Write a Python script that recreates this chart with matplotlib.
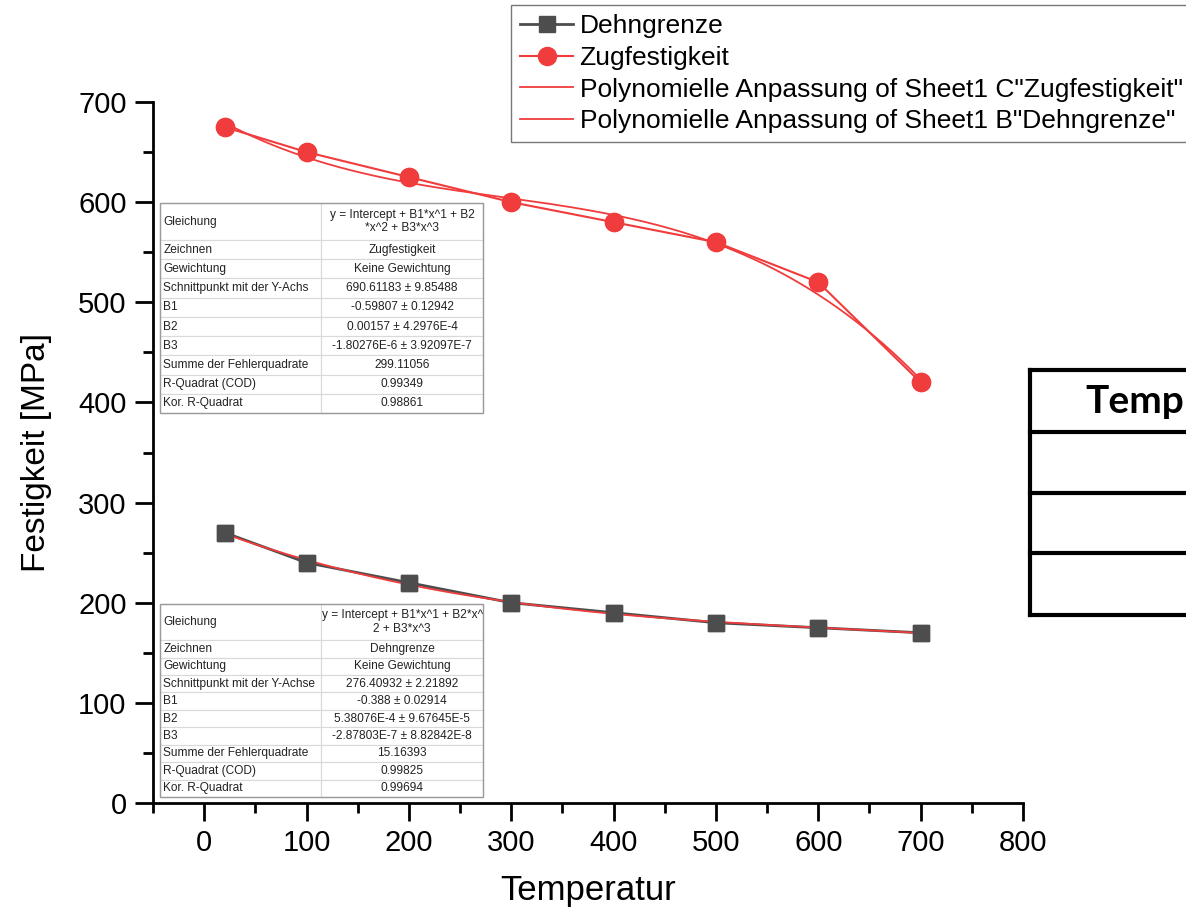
import matplotlib.pyplot as plt
import numpy as np
from matplotlib.patches import Rectangle

plt.rcParams['font.family'] = ['Liberation Sans', 'DejaVu Sans']

# Messwerte
temperatur = [20, 100, 200, 300, 400, 500, 600, 700]
dehngrenze = [270, 240, 220, 200, 190, 180, 175, 170]
zugfestigkeit = [675, 650, 625, 600, 580, 560, 520, 420]

# Fit-Koeffizienten (Intercept, B1, B2, B3) aus den Ergebnistabellen
fit_zug = [690.61183, -0.59807, 0.00157, -1.80276e-6]
fit_dehn = [276.40932, -0.388, 5.38076e-4, -2.87803e-7]

rows_zug = [
    ["Gleichung", "y = Intercept + B1*x^1 + B2\n*x^2 + B3*x^3"],
    ["Zeichnen", "Zugfestigkeit"],
    ["Gewichtung", "Keine Gewichtung"],
    ["Schnittpunkt mit der Y-Achs", "690.61183 ± 9.85488"],
    ["B1", "-0.59807 ± 0.12942"],
    ["B2", "0.00157 ± 4.2976E-4"],
    ["B3", "-1.80276E-6 ± 3.92097E-7"],
    ["Summe der Fehlerquadrate", "299.11056"],
    ["R-Quadrat (COD)", "0.99349"],
    ["Kor. R-Quadrat", "0.98861"],
]
rows_dehn = [
    ["Gleichung", "y = Intercept + B1*x^1 + B2*x^\n2 + B3*x^3"],
    ["Zeichnen", "Dehngrenze"],
    ["Gewichtung", "Keine Gewichtung"],
    ["Schnittpunkt mit der Y-Achse", "276.40932 ± 2.21892"],
    ["B1", "-0.388 ± 0.02914"],
    ["B2", "5.38076E-4 ± 9.67645E-5"],
    ["B3", "-2.87803E-7 ± 8.82842E-8"],
    ["Summe der Fehlerquadrate", "15.16393"],
    ["R-Quadrat (COD)", "0.99825"],
    ["Kor. R-Quadrat", "0.99694"],
]

red = '#f03c3c'
grey = '#4d4d4d'

fig = plt.figure(figsize=(11.86, 9.14), dpi=100)
ax = fig.add_axes([153 / 1186, 1 - 803 / 914, 870 / 1186, 701 / 914])

x_fit = np.linspace(temperatur[0], temperatur[-1], 300)
y_fit_zug = np.polynomial.polynomial.polyval(x_fit, fit_zug)
y_fit_dehn = np.polynomial.polynomial.polyval(x_fit, fit_dehn)

ax.plot(temperatur, dehngrenze, color=grey, lw=2, marker='s', ms=11.5,
        mfc=grey, mec=grey, label='Dehngrenze', zorder=2)
ax.plot(temperatur, zugfestigkeit, color=red, lw=1.5, marker='o', ms=13,
        mfc=red, mec=red, label='Zugfestigkeit', zorder=2)
ax.plot(x_fit, y_fit_zug, color=red, lw=1.3, zorder=3,
        label='Polynomielle Anpassung of Sheet1 C"Zugfestigkeit"')
ax.plot(x_fit, y_fit_dehn, color=red, lw=1.3, zorder=3,
        label='Polynomielle Anpassung of Sheet1 B"Dehngrenze"')
# Marker oben drauf
ax.plot(temperatur, dehngrenze, ls='none', marker='s', ms=11.5, color=grey, zorder=4)
ax.plot(temperatur, zugfestigkeit, ls='none', marker='o', ms=13, color=red, zorder=4)

ax.set_xlim(-50, 800)
ax.set_ylim(0, 700)
ax.set_xticks(np.arange(0, 801, 100))
ax.set_xticks(np.arange(-50, 801, 50), minor=True)
ax.set_yticks(np.arange(0, 701, 100))
ax.set_yticks(np.arange(0, 701, 50), minor=True)
for s in ['top', 'right']:
    ax.spines[s].set_visible(False)
for s in ['left', 'bottom']:
    ax.spines[s].set_linewidth(2)
ax.tick_params(which='major', direction='out', length=13, width=2, labelsize=21, pad=6)
ax.tick_params(which='minor', direction='out', length=7, width=2)
ax.set_xlabel('Temperatur', fontsize=25, labelpad=12)
ax.set_ylabel('Festigkeit [MPa]', fontsize=24, labelpad=19)

leg = fig.legend(loc='upper left', bbox_to_anchor=(511 / 1186, 1 - 5 / 914),
                 borderaxespad=0, fontsize=19, fancybox=False, edgecolor='#555555',
                 borderpad=0.35, handlelength=2.0, handletextpad=0.25, labelspacing=0.29)
leg.get_frame().set_linewidth(1)


def fit_table(rect, rows, first_h, row_h):
    tax = fig.add_axes(rect)
    tax.axis('off')
    tab = tax.table(cellText=rows, bbox=[0, 0, 1, 1], cellLoc='center', colWidths=[0.5, 0.5])
    tab.auto_set_font_size(False)
    tab.set_fontsize(8.6)
    for (r, c), cell in tab.get_celld().items():
        cell.set_edgecolor('#d9d9d9')
        cell.set_linewidth(0.8)
        cell.set_height(first_h if r == 0 else row_h)
        cell.PAD = 0.02
        if c == 0:
            cell.get_text().set_ha('left')
        cell.get_text().set_color('#222222')
    tax.add_patch(Rectangle((0, 0), 1, 1, transform=tax.transAxes, fill=False,
                            edgecolor='#9a9a9a', lw=1, clip_on=False, zorder=5))


fit_table([160 / 1186, 1 - 413 / 914, 323 / 1186, 210 / 914], rows_zug, 37, 19.2)
fit_table([160 / 1186, 1 - 797 / 914, 323 / 1186, 193 / 914], rows_dehn, 36, 17.4)

# angeschnittene Tabelle rechts
rax = fig.add_axes([1030 / 1186, 1 - 615 / 914, 0.2, 245 / 914])
rax.set_xlim(0, 1)
rax.set_ylim(0, 245)
rax.axis('off')
for yb in [0, 62, 123, 183, 245]:
    rax.plot([0, 1], [245 - yb, 245 - yb], color='black', lw=3, clip_on=False,
             solid_capstyle='projecting')
rax.plot([0, 0], [0, 245], color='black', lw=3, clip_on=False, solid_capstyle='projecting')
rax.text(55 / 237, 245 - 31, 'Temp', fontsize=28, fontweight='bold', family='Lato',
         ha='left', va='center')

fig.savefig('out.png', dpi=100)
